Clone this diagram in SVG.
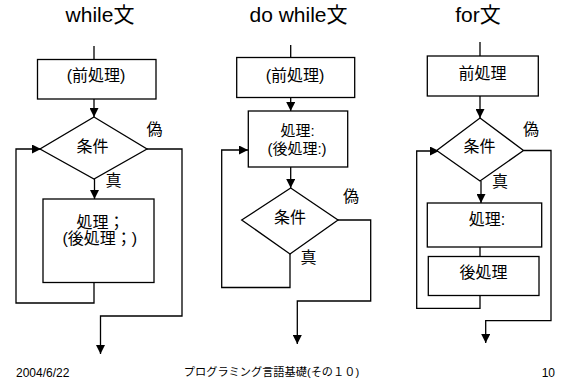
<svg xmlns="http://www.w3.org/2000/svg" width="565" height="383" viewBox="0 0 565 383">
<defs>
<marker id="ah" markerUnits="userSpaceOnUse" markerWidth="9" markerHeight="9" refX="9" refY="4.5" orient="auto">
<path d="M0,0 L9,4.5 L0,9 z" fill="#000"/>
</marker>
<style>
text{font-family:"Liberation Sans","Noto Sans CJK JP",sans-serif;fill:#000}
.title{font-size:21px;text-anchor:middle}
.lbl{font-size:16px;text-anchor:middle}
.sm{font-size:15px}
.foot{font-size:12px}
.box{fill:#fff;stroke:#000;stroke-width:1.3}
.ln{fill:none;stroke:#000;stroke-width:1.3}
.arr{fill:none;stroke:#000;stroke-width:1.3;marker-end:url(#ah)}
</style>
</defs>
<rect width="565" height="383" fill="#fff"/>

<text class="title" x="100" y="22">while文</text>
<text class="title" x="298.5" y="22">do while文</text>
<text class="title" x="478" y="22">for文</text>

<g id="connectors">
<!-- while -->
<path class="ln" d="M94,46 V59.5"/>
<path class="arr" d="M94,99 V117"/>
<path class="arr" d="M94.5,179 V199"/>
<path class="arr" d="M94,282.5 V303 H16 V149 H41"/>
<path class="arr" d="M147,149 H182 V316 H100.5 V354"/>
<!-- do while -->
<path class="ln" d="M290.7,45 V57.5"/>
<path class="arr" d="M290.7,97.5 V111"/>
<path class="arr" d="M290.7,167 V188"/>
<path class="arr" d="M290,254 V287.5 H221.7 V150 H248"/>
<path class="arr" d="M338,220 H370.7 V301 H297.3 V344"/>
<!-- for -->
<path class="ln" d="M480,42 V56"/>
<path class="arr" d="M480,96 V118"/>
<path class="arr" d="M481,181 V203"/>
<path class="ln" d="M480,247 V256.5"/>
<path class="arr" d="M480,295.5 V308.3 H416.7 V151 H439"/>
<path class="arr" d="M523.5,150.5 H551 V320.7 H485.7 V343"/>
</g>

<!-- while nodes -->
<g id="w-pre">
<rect class="box" x="37.5" y="59.5" width="118.5" height="39.5"/>
<text class="lbl" x="96" y="81">(前処理)</text>
</g>
<g id="w-cond">
<path class="box" d="M94,117 L147,149 L94,179 L40,149 Z"/>
<text class="lbl" x="92.5" y="152">条件</text>
</g>
<g id="w-body">
<rect class="box" x="43" y="199" width="111" height="83.5"/>
<text class="lbl" x="76.5" y="228" style="text-anchor:start">処理；</text>
<text class="lbl" x="62.5" y="244" style="text-anchor:start">(後処理；)</text>
</g>
<text class="lbl" x="154.5" y="135">偽</text>
<text class="lbl" x="113.5" y="186">真</text>

<!-- do while nodes -->
<g id="d-pre">
<rect class="box" x="236.7" y="57.5" width="118" height="40"/>
<text class="lbl" x="295" y="81">(前処理)</text>
</g>
<g id="d-body">
<rect class="box" x="248.3" y="111" width="99.4" height="56"/>
<text class="lbl sm" x="297.5" y="136">処理:</text>
<text class="lbl sm" x="297" y="154">(後処理:)</text>
</g>
<g id="d-cond">
<path class="box" d="M290.7,188 L338,220 L290,254 L241.7,220 Z"/>
<text class="lbl" x="290" y="223">条件</text>
</g>
<text class="lbl" x="351" y="202">偽</text>
<text class="lbl" x="308.5" y="263">真</text>

<!-- for nodes -->
<g id="f-pre">
<rect class="box" x="427.3" y="56" width="111" height="40"/>
<text class="lbl" x="482.5" y="79">前処理</text>
</g>
<g id="f-cond">
<path class="box" d="M480,118 L523.5,150.5 L480,181 L436.7,150.5 Z"/>
<text class="lbl" x="479.5" y="152">条件</text>
</g>
<g id="f-body">
<rect class="box" x="427.3" y="203" width="114.4" height="44"/>
<text class="lbl" x="487" y="225">処理:</text>
</g>
<g id="f-post">
<rect class="box" x="428.3" y="256.5" width="110.7" height="39"/>
<text class="lbl" x="483.5" y="278">後処理</text>
</g>
<text class="lbl" x="531" y="135">偽</text>
<text class="lbl" x="500" y="187">真</text>

<text class="foot" x="16" y="377">2004/6/22</text>
<text class="foot" x="271.5" y="376" style="font-size:11.2px;text-anchor:middle">プログラミング言語基礎(その１０)</text>
<text class="foot" x="555" y="377" style="text-anchor:end">10</text>
</svg>
